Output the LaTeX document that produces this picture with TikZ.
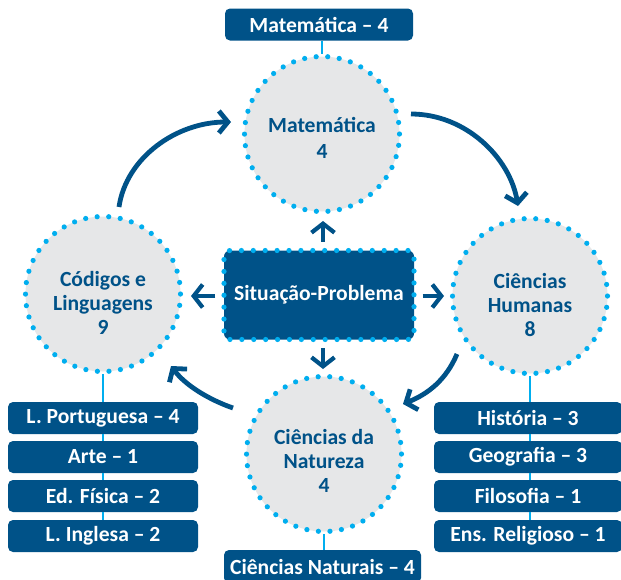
\documentclass[tikz,border=0pt]{standalone}
\usepackage{fontspec}
\setmainfont{Carlito}
\usetikzlibrary{arrows.meta}
\definecolor{dblue}{RGB}{0,82,136}
\definecolor{lblue}{RGB}{0,174,239}
\definecolor{cgray}{RGB}{230,231,232}
\tikzset{
  txt/.style={font={\fontsize{21.6}{24}\selectfont\bfseries}},
  disc/.style={txt, circle, fill=cgray, draw=lblue, line width=5.2pt,
    dash pattern=on 0pt off 11.6pt, line cap=round, minimum size=155pt,
    inner sep=0pt, text=dblue, align=center},
  centerbox/.style={txt, rectangle, rounded corners=6pt, fill=dblue, draw=lblue,
    line width=5.2pt, dash pattern=on 0pt off 11.9pt, line cap=round,
    minimum width=190pt, minimum height=89pt, inner sep=0pt, text=white},
  subj/.style={txt, rectangle, rounded corners=5pt, fill=dblue, text=white,
    minimum width=190pt, minimum height=32pt, inner sep=0pt},
  conn/.style={draw=lblue, line width=1.5pt},
  bigarrow/.style={draw=dblue, line width=4.8pt,
    -{Straight Barb[length=9pt,width=22pt]}},
  straightarrow/.style={draw=dblue, line width=4.2pt,
    -{Straight Barb[length=9pt,width=23pt]}}
}
\begin{document}
\begin{tikzpicture}[x=1pt,y=-1pt]
\useasboundingbox (0,0) rectangle (621,579);
% circles
\node[disc] (M) at (322,134) {\rule{0pt}{23pt}Matemática\\[2pt]4};
\node[disc] (L) at (103,294) {\rule{0pt}{33pt}Códigos e\\Linguagens\\9};
\node[disc] (H) at (530,296) {\rule{0pt}{33pt}Ciências\\Humanas\\8};
\node[disc] (N) at (324,454) {\rule{0pt}{29pt}Ciências da\\Natureza\\4};
% center
\node[centerbox] (S) at (319,295) {Situação-Problema};
% subject boxes
\node[subj, minimum width=188pt] (tm) at (319,24.5) {Matemática – 4};
\node[subj] (lp) at (103,418) {L. Portuguesa – 4};
\node[subj] (ar) at (103,457) {Arte – 1};
\node[subj] (ef) at (103,496) {Ed. Física – 2};
\node[subj] (li) at (103,536) {L. Inglesa – 2};
\node[subj, minimum width=188pt] (hi) at (528,418) {História – 3};
\node[subj, minimum width=188pt] (ge) at (528,457) {Geografia – 3};
\node[subj, minimum width=188pt] (fi) at (528,496) {Filosofia – 1};
\node[subj, minimum width=188pt] (er) at (528,536) {Ens. Religioso – 1};
\node[subj, minimum width=197pt, minimum height=33pt] (cn) at (322.5,566.5) {Ciências Naturais – 4};
% thin connectors
\draw[conn] (tm.south -| M.north) -- (M.north);
\draw[conn] (L.south) -- (lp.north);
\draw[conn] (lp.south) -- (ar.north);
\draw[conn] (ar.south) -- (ef.north);
\draw[conn] (ef.south) -- (li.north);
\draw[conn] (H.south) -- (H.south |- hi.north);
\draw[conn] (hi.south -| H.south) -- (H.south |- ge.north);
\draw[conn] (ge.south -| H.south) -- (H.south |- fi.north);
\draw[conn] (fi.south -| H.south) -- (H.south |- er.north);
\draw[conn] (N.south) -- (N.south |- cn.north);
% straight arrows from the center
\coordinate (tU) at (323,221);
\coordinate (tL) at (191,296);
\coordinate (tR) at (444,296);
\coordinate (tD) at (323,369);
\draw[straightarrow] (S.north -| tU) ++(0,-6) -- (tU);
\draw[straightarrow] (S.west |- tL) ++(-6,0) -- (tL);
\draw[straightarrow] (S.east |- tR) ++(6,0) -- (tR);
\draw[straightarrow] (S.south -| tD) ++(0,6) -- (tD);
% curved arrows
\coordinate (a1) at (119,207);
\coordinate (b1) at (231,122);
\coordinate (a2) at (411,114);
\coordinate (b2) at (518,206);
\coordinate (a3) at (457,354);
\coordinate (b3) at (403,404);
\coordinate (a4) at (233,408);
\coordinate (b4) at (171,366);
\draw[bigarrow] (a1) .. controls (126,158) and (176,122) .. (b1);
\draw[bigarrow] (a2) .. controls (466,114) and (510,158) .. (b2);
\draw[bigarrow] (a3) .. controls (446,380) and (428,394) .. (b3);
\draw[bigarrow] (a4) .. controls (210,400) and (186,386) .. (b4);
\end{tikzpicture}
\end{document}
